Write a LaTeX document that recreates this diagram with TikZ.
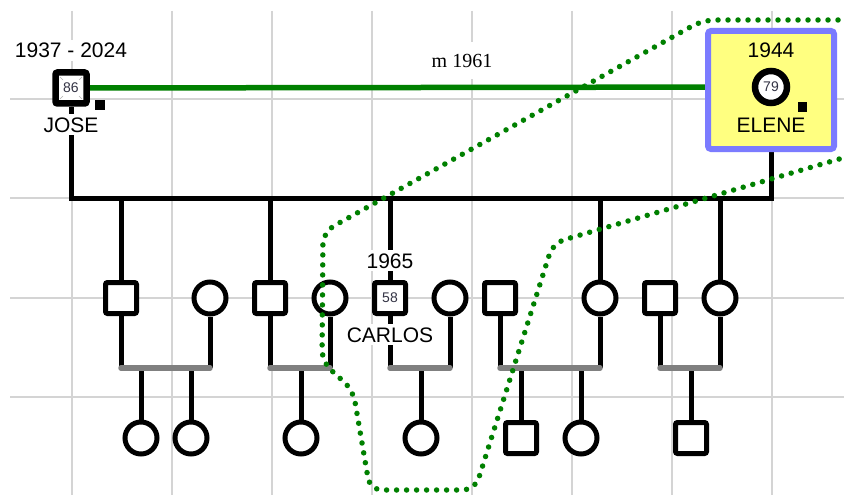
\documentclass[tikz,border=0pt]{standalone}
\usepackage{fontspec}
\setmainfont{Liberation Sans}
\newfontfamily\serifm{Liberation Serif}
\definecolor{gridc}{HTML}{D4D4D4}
\definecolor{numtext}{HTML}{333344}
\definecolor{hlfill}{HTML}{FFFF80}
\definecolor{hlborder}{HTML}{7B7BFF}
\definecolor{mgreen}{HTML}{008000}
\definecolor{famgray}{HTML}{808080}
\pgfdeclarelayer{gridlayer}
\pgfdeclarelayer{linelayer}
\pgfsetlayers{gridlayer,linelayer,main}
\begin{document}
\begin{tikzpicture}[x=1pt,y=-1pt,
  font=\fontsize{21}{25}\selectfont,
  sq/.style={draw=black,line width=5pt,fill=white,minimum size=31pt,inner sep=0pt,rounded corners=2pt,font=\fontsize{14}{16}\selectfont,text=numtext},
  ci/.style={circle,draw=black,line width=5pt,fill=white,minimum size=32pt,inner sep=0pt,font=\fontsize{14}{16}\selectfont,text=numtext},
  lbl/.style={fill=white,inner xsep=1pt,inner ysep=3pt,anchor=base},
  link/.style={draw=black,line width=5pt},
  famline/.style={draw=famgray,line width=5.5pt,line cap=round},
  gridline/.style={draw=gridc,line width=1.5pt},
  smallmark/.style={fill=black,inner sep=0pt,minimum size=10pt},
  cornermark/.style={draw=gray!60,line width=0.7pt},
  dotpath/.style={draw=mgreen,line width=5.5pt,line cap=round,dash pattern=on 0pt off 10pt,rounded corners=12pt}
]
\useasboundingbox (0,0) rectangle (844,495);

% grid
\begin{pgfonlayer}{gridlayer}
\fill[white] (0,0) rectangle (844,495);
\foreach \x in {72,172,272,372,472,572,672,772}
  \draw[gridline] (\x,11) -- (\x,495);
\foreach \y in {99,198,298,397}
  \draw[gridline] (10,\y) -- (844,\y);
\end{pgfonlayer}

% highlight box for ELENE
\node[draw=hlborder,fill=hlfill,line width=6pt,minimum width=126pt,minimum height=118pt,rounded corners=3pt,inner sep=0pt] (elenebox) at (771,90) {};

% generation I
\node[sq,line width=6.5pt] (jose) at (71,88) {86};
\node[ci,line width=6.5pt] (elene) at (771,87) {79};
\node[smallmark] (josemark) at (100,105) {};
\node[smallmark,minimum size=9pt] (elenemark) at (802,107) {};
\draw[cornermark] ([shift={(-11,-11)}]jose.center) -- ([shift={(-8,-8)}]jose.center);
\draw[cornermark] ([shift={(11,-11)}]jose.center) -- ([shift={(8,-8)}]jose.center);
\draw[cornermark] ([shift={(-11,11)}]jose.center) -- ([shift={(-8,8)}]jose.center);
\draw[cornermark] ([shift={(11,11)}]jose.center) -- ([shift={(8,8)}]jose.center);

% generation II
\node[sq] (c1) at (121,298) {};
\node[ci] (s1) at (210,298) {};
\node[sq] (c2) at (270,298) {};
\node[ci] (s2) at (330,298) {};
\node[sq] (carlos) at (390,298) {58};
\node[ci] (s3) at (450,298) {};
\node[sq] (s4) at (500,298) {};
\node[ci] (c4) at (600,298) {};
\node[sq] (s5) at (660,298) {};
\node[ci] (c5) at (720,298) {};

% generation III
\node[ci] (g1) at (141,438) {};
\node[ci] (g2) at (191,438) {};
\node[ci] (g3) at (301,438) {};
\node[ci] (g4) at (421,438) {};
\node[sq] (g5) at (521,438) {};
\node[ci] (g6) at (581,438) {};
\node[sq] (g7) at (691,438) {};

% coordinates
\coordinate (sibL) at (71,198);
\coordinate (sibR) at (771,198);
\coordinate (f1a) at (121,368); \coordinate (f1b) at (210,368);
\coordinate (f2a) at (270,368); \coordinate (f2b) at (330,368);
\coordinate (f3a) at (390,368); \coordinate (f3b) at (450,368);
\coordinate (f4a) at (500,368); \coordinate (f4b) at (600,368);
\coordinate (f5a) at (660,368); \coordinate (f5b) at (720,368);

\begin{pgfonlayer}{linelayer}
\draw[draw=mgreen,line width=5.5pt] (jose) -- (elene);
\draw[link] (jose) -- (sibL) -- (sibR) -- (elene);
\foreach \n in {c1,c2,carlos,c4,c5}
  \draw[link] (\n |- sibL) -- (\n);
\foreach \n/\f in {c1/f1a,s1/f1b,c2/f2a,s2/f2b,carlos/f3a,s3/f3b,s4/f4a,c4/f4b,s5/f5a,c5/f5b}
  \draw[link] (\n) -- (\f);
\foreach \g/\f in {g1/f1a,g2/f1a,g3/f2a,g4/f3a,g5/f4a,g6/f4a,g7/f5a}
  \draw[link] (\g |- \f) -- (\g);
\draw[famline] (f1a) -- (f1b);
\draw[famline] (f2a) -- (f2b);
\draw[famline] (f3a) -- (f3b);
\draw[famline] (f4a) -- (f4b);
\draw[famline] (f5a) -- (f5b);
\end{pgfonlayer}

% labels
\node[lbl] (josedates) at (71,58) {1937 - 2024};
\node[lbl] (josename) at (71,132) {JOSE};
\node[lbl,fill=none] (elenedates) at (771,58) {1944};
\node[lbl,fill=none] (elenename) at (771,132) {ELENE};
\node[lbl] (carlosdates) at (390,268) {1965};
\node[lbl] (carlosname) at (390,342) {CARLOS};
\node[lbl,inner ysep=12pt,font=\serifm\fontsize{20}{24}\selectfont] (marriage) at (462,67) {m 1961};

% dotted selection outline
\begin{scope}
\clip (0,0) rectangle (844,495);
\draw[dotpath] (870,20) -- (703,20) -- (323,232) -- (322,362) -- (353,390) -- (370,490) -- (475,490) -- (553,243) -- (870,150) -- cycle;
\end{scope}
\end{tikzpicture}
\end{document}
